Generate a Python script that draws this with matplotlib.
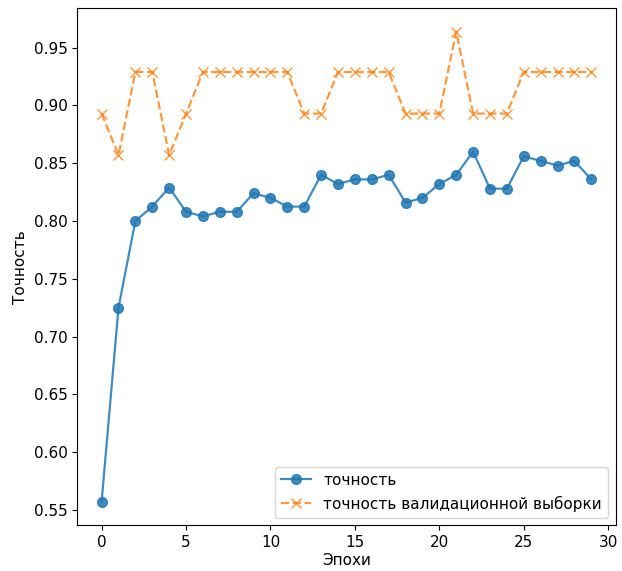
import matplotlib
matplotlib.use("Agg")
import matplotlib.pyplot as plt
import numpy as np

# accuracy per epoch
epochs = list(range(30))
train_acc = [0.557, 0.725, 0.800, 0.8125, 0.829, 0.808, 0.804, 0.808, 0.808, 0.824,
             0.820, 0.8125, 0.8125, 0.840, 0.832, 0.836, 0.836, 0.840, 0.816, 0.820,
             0.832, 0.840, 0.860, 0.828, 0.828, 0.856, 0.852, 0.848, 0.852, 0.836]
val_acc = [0.893, 0.857, 0.929, 0.929, 0.857, 0.893, 0.929, 0.929, 0.929, 0.929,
           0.929, 0.929, 0.893, 0.893, 0.929, 0.929, 0.929, 0.929, 0.893, 0.893,
           0.893, 0.964, 0.893, 0.893, 0.893, 0.929, 0.929, 0.929, 0.929, 0.929]

fig = plt.figure(figsize=(6.22, 5.71), dpi=100)
ax = fig.add_axes([0.124, 0.08, 0.866, 0.906])

ax.plot(epochs, train_acc, marker="o", markersize=7, linewidth=1.6,
        color="#1f77b4", alpha=0.85, label="точность")
ax.plot(epochs, val_acc, marker="x", linestyle="--", markersize=6.5, linewidth=1.6,
        color="#ff7f0e", alpha=0.8, label="точность валидационной выборки")

ax.set_xlabel("Эпохи", fontsize=11, labelpad=2)
ax.set_ylabel("Точность", fontsize=11)
ax.tick_params(labelsize=11)
ax.set_yticks(np.arange(0.55, 0.951, 0.05))
ax.legend(loc="lower right", fontsize=11)

fig.savefig("out.png", dpi=100)
